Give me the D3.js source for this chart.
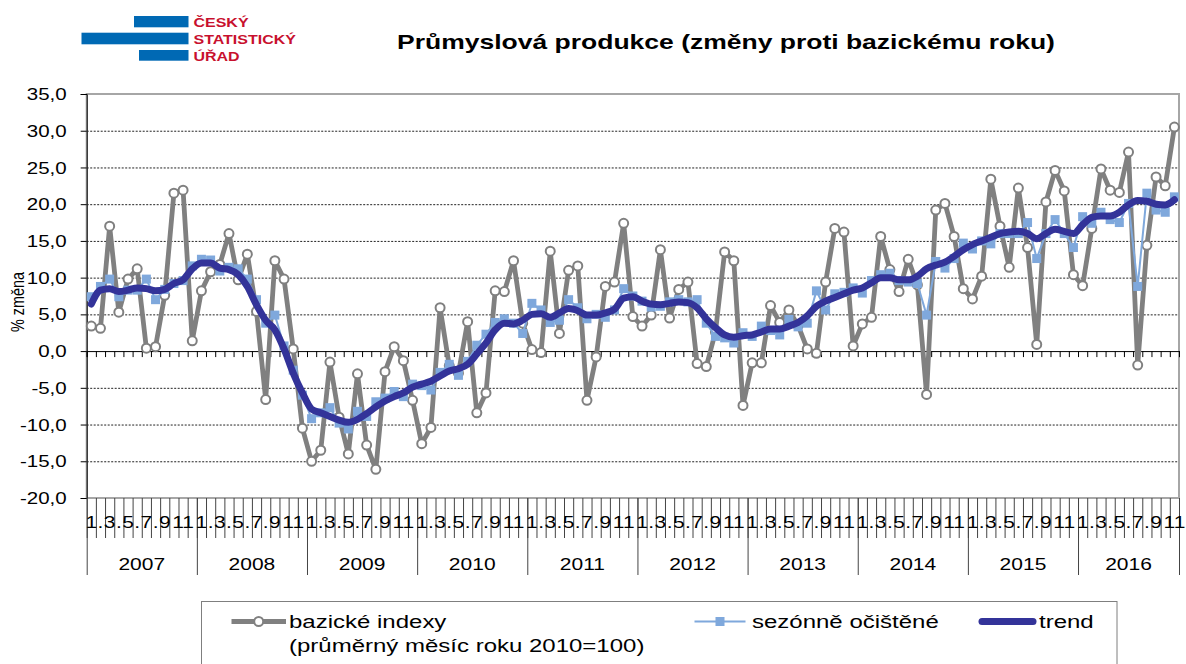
<!DOCTYPE html>
<html lang="cs">
<head>
<meta charset="utf-8">
<title>Průmyslová produkce</title>
<script src="https://cdn.jsdelivr.net/npm/d3@7"></script>
<style>
  body { margin: 0; background: #fff; }
  svg text { font-family: Arial, "Liberation Sans", sans-serif; }
</style>
</head>
<body>
<svg id="chart" width="1186" height="664"></svg>
<script>
// Data (monthly, 1/2007 - 11/2016)
const years = ["2007", "2008", "2009", "2010", "2011", "2012", "2013", "2014", "2015", "2016"];
const monthLabels = ["1", ".", "3", ".", "5", ".", "7", ".", "9", "", "11", ""];
const yTicks = [-20, -15, -10, -5, 0, 5, 10, 15, 20, 25, 30, 35];

const bazicke = [
  3.4, 3.1, 17.0, 5.3, 9.8, 11.2, 0.4, 0.6, 7.6, 21.5, 21.9, 1.4,
  8.2, 10.8, 11.8, 16.0, 9.7, 13.2, 5.4, -6.6, 12.3, 9.8, 0.3, -10.5,
  -15.0, -13.5, -1.5, -9.0, -14.0, -3.1, -12.8, -16.1, -2.8, 0.6, -1.3, -6.7,
  -12.6, -10.4, 5.9, -2.0, -3.0, 4.0, -8.4, -5.7, 8.2, 8.1, 12.3, 3.8,
  0.2, -0.2, 13.6, 2.4, 11.0, 11.6, -6.7, -0.8, 8.8, 9.4, 17.4, 4.7,
  3.4, 4.9, 13.8, 4.5, 8.4, 9.4, -1.7, -2.1, 2.6, 13.5, 12.3, -7.4,
  -1.6, -1.6, 6.2, 3.9, 5.6, 3.5, 0.3, -0.3, 9.4, 16.7, 16.2, 0.7,
  3.7, 4.6, 15.6, 11.1, 8.1, 12.5, 9.0, -5.9, 19.2, 20.1, 15.6, 8.5,
  7.1, 10.2, 23.4, 17.0, 11.4, 22.2, 14.1, 0.9, 20.3, 24.6, 21.8, 10.4,
  8.9, 16.7, 24.8, 21.9, 21.6, 27.1, -1.9, 14.4, 23.7, 22.5, 30.5
];

const sezonne = [
  7.4, 8.8, 9.8, 7.4, 8.3, 8.3, 9.8, 7.0, 8.4, 9.2, 9.6, 11.6,
  12.5, 12.4, 10.9, 11.4, 11.2, 9.8, 7.0, 3.8, 4.9, 0.7, -2.6, -6.0,
  -9.2, -8.4, -7.7, -9.8, -10.6, -8.2, -8.9, -6.9, -6.4, -5.5, -6.2, -4.5,
  -4.7, -5.3, -2.9, -1.8, -3.3, -1.4, 0.8, 2.3, 3.9, 4.4, 3.8, 2.4,
  6.5, 5.6, 3.9, 4.2, 7.0, 5.9, 4.4, 5.0, 4.6, 5.6, 8.5, 7.5,
  6.8, 6.0, 6.1, 6.7, 7.0, 6.7, 7.0, 3.8, 2.0, 1.8, 1.1, 2.5,
  2.0, 3.4, 2.8, 2.2, 4.3, 3.3, 3.8, 8.2, 5.6, 7.8, 8.0, 8.6,
  7.9, 9.6, 10.4, 10.6, 9.6, 9.4, 9.2, 4.9, 12.2, 11.3, 12.6, 14.7,
  13.9, 15.0, 14.6, 16.0, 16.0, 16.0, 17.5, 12.6, 16.0, 17.9, 16.0, 14.1,
  18.3, 17.4, 18.9, 17.9, 17.5, 20.1, 8.8, 21.5, 19.2, 18.9, 21.0
];

const trend = [
  6.4, 8.3, 8.5, 8.1, 8.3, 8.6, 8.5, 8.2, 8.4, 9.2, 9.7, 11.2,
  12.0, 12.0, 11.3, 11.1, 10.4, 8.8, 6.3, 4.2, 2.9, 0.3, -3.0, -5.7,
  -7.9, -8.4, -8.9, -9.4, -9.7, -9.3, -8.5, -7.6, -6.8, -6.2, -5.7, -4.9,
  -4.5, -4.1, -3.4, -2.7, -2.4, -1.8, -0.4, 1.1, 2.9, 3.8, 3.7, 4.2,
  5.0, 5.1, 4.6, 5.2, 5.8, 5.5, 4.9, 4.9, 5.2, 5.7, 7.2, 7.4,
  6.8, 6.4, 6.3, 6.5, 6.7, 6.6, 5.9, 4.4, 3.2, 2.2, 1.9, 2.1,
  2.2, 2.6, 3.0, 3.0, 3.4, 3.9, 4.8, 6.1, 6.8, 7.3, 7.8, 8.3,
  8.6, 9.3, 10.0, 10.0, 9.7, 9.7, 10.2, 11.2, 11.7, 12.1, 12.9, 13.8,
  14.5, 15.0, 15.5, 16.0, 16.2, 16.3, 16.0, 15.3, 16.0, 16.6, 16.3, 16.0,
  17.2, 18.2, 18.4, 18.4, 18.9, 19.9, 20.5, 20.4, 20.0, 19.9, 20.6
];

// Colours
const cGray = "#808080";
const cLight = "#7fa8dc";
const cTrend = "#333399";

// the original picture is squashed vertically, so text is too
const SQ = 0.78;

const svg = d3.select("#chart");
const plotL = 86.7, plotR = 1179, plotT = 94, plotB = 498;
const n = bazicke.length;

const x = d3.scaleBand().domain(d3.range(n)).range([plotL, plotR]);
const xb = d3.scaleLinear().domain([0, n]).range([plotL, plotR]);
const y = d3.scaleLinear().domain([-20, 35]).range([plotB, plotT]);
const cx = (i) => x(i) + x.bandwidth() / 2;

const cz = d3.formatLocale({ decimal: ",", thousands: " ", grouping: [3], currency: ["", " Kč"], minus: "-" });
const fmt = cz.format(".1f");

// squashed text helper
const label = (g, tx, ty, str, size, o = {}) =>
  g.append("text")
    .attr("transform", `translate(${tx},${ty}) ` + (o.rotate ? `rotate(-90) scale(${SQ},1)` : `scale(1,${SQ})`))
    .attr("text-anchor", o.anchor || "start")
    .attr("font-size", size)
    .attr("font-weight", o.bold ? "bold" : null)
    .attr("fill", o.color || "#000")
    .text(str);

// Logo
const logo = svg.append("g");
logo.append("rect").attr("x", 134).attr("y", 16).attr("width", 54.5).attr("height", 11.3).attr("fill", "#0069b4");
logo.append("rect").attr("x", 81.5).attr("y", 32.7).attr("width", 107).attr("height", 11.6).attr("fill", "#0069b4");
logo.append("rect").attr("x", 139).attr("y", 50).attr("width", 49.5).attr("height", 10.7).attr("fill", "#0069b4");
label(logo, 193.5, 27.3, "ČESKÝ", 16, { bold: true, color: "#c8102e" });
label(logo, 193.5, 44.3, "STATISTICKÝ", 16, { bold: true, color: "#c8102e" });
label(logo, 193.5, 60.7, "ÚŘAD", 16, { bold: true, color: "#c8102e" });

// Title
label(svg, 726, 49, "Průmyslová produkce (změny proti bazickému roku)", 26.5, { bold: true, anchor: "middle" });

// Gridlines
svg.append("g")
  .attr("transform", `translate(${plotL},0)`)
  .call(d3.axisLeft(y).tickValues(yTicks.filter((v) => v > -20 && v < 35 && v !== 0)).tickSize(-(plotR - plotL)).tickFormat(""))
  .call((g) => g.select(".domain").remove())
  .call((g) => g.selectAll("line").attr("stroke", "#222").attr("stroke-dasharray", "2,1.5"));

// Plot border
svg.append("rect")
  .attr("x", plotL).attr("y", plotT).attr("width", plotR - plotL).attr("height", plotB - plotT)
  .attr("fill", "none").attr("stroke", "#a6a6a6").attr("stroke-width", 2);

// Y axis
const yAxis = svg.append("g")
  .attr("transform", `translate(${plotL},0)`)
  .call(d3.axisLeft(y).tickValues(yTicks).tickSize(6).tickFormat(fmt));
yAxis.select(".domain").attr("stroke", "#000");
yAxis.selectAll("text")
  .attr("x", null).attr("dy", null)
  .attr("font-size", 20.5)
  .attr("transform", `translate(-20,5.6) scale(1,${SQ})`);
label(svg, 24, 302, "% změna", 18.5, { rotate: true, anchor: "middle" });

// Zero line with small ticks
svg.append("g")
  .attr("transform", `translate(0,${y(0)})`)
  .call(d3.axisBottom(xb).tickValues(d3.range(n + 1)).tickSize(6).tickFormat(""))
  .call((g) => g.selectAll("line,path").attr("stroke", "#000"));

// Category axis under the plot
svg.append("g")
  .attr("transform", `translate(0,${plotB})`)
  .call(d3.axisBottom(xb).tickValues(d3.range(n + 1)).tickSize(40).tickFormat(""))
  .call((g) => g.select(".domain").remove())
  .call((g) => g.selectAll("line").attr("stroke", "#444"));

const yearBounds = years.map((d, k) => k * 12).concat([n]);
svg.append("g")
  .attr("transform", `translate(0,${plotB})`)
  .call(d3.axisBottom(xb).tickValues(yearBounds).tickSize(77).tickFormat(""))
  .call((g) => g.select(".domain").remove())
  .call((g) => g.selectAll("line").attr("stroke", "#444"));

const monthAxis = svg.append("g")
  .attr("transform", `translate(0,${plotB})`)
  .call(d3.axisBottom(x).tickSize(0).tickFormat((i) => monthLabels[i % 12]));
monthAxis.select(".domain").remove();
monthAxis.selectAll("text")
  .attr("y", null).attr("dy", null)
  .attr("font-size", 21)
  .attr("transform", `translate(0,30) scale(1,${SQ})`);

years.forEach((yr, k) => {
  const mid = (xb(yearBounds[k]) + xb(yearBounds[k + 1])) / 2;
  label(svg, mid, 570, yr, 21, { anchor: "middle" });
});

// Series
const line = d3.line().x((d, i) => cx(i)).y((d) => y(d));

svg.append("path")
  .attr("d", line(bazicke))
  .attr("fill", "none").attr("stroke", cGray).attr("stroke-width", 4.8).attr("stroke-linejoin", "round");
svg.append("g").selectAll("circle")
  .data(bazicke)
  .join("circle")
  .attr("cx", (d, i) => cx(i)).attr("cy", (d) => y(d)).attr("r", 4.5)
  .attr("fill", "#fff").attr("stroke", cGray).attr("stroke-width", 2);

svg.append("path")
  .attr("d", line(sezonne))
  .attr("fill", "none").attr("stroke", cLight).attr("stroke-width", 2);
svg.append("g").selectAll("rect")
  .data(sezonne)
  .join("rect")
  .attr("x", (d, i) => cx(i) - 4.5).attr("y", (d) => y(d) - 4.5)
  .attr("width", 9).attr("height", 9)
  .attr("fill", cLight);

svg.append("path")
  .attr("d", line.curve(d3.curveMonotoneX)(trend))
  .attr("fill", "none").attr("stroke", cTrend).attr("stroke-width", 7)
  .attr("stroke-linejoin", "round").attr("stroke-linecap", "round");

// Legend
const lg = svg.append("g");
lg.append("rect")
  .attr("x", 201.5).attr("y", 601.5).attr("width", 915.5).attr("height", 80)
  .attr("fill", "#fff").attr("stroke", "#7f7f7f").attr("stroke-width", 1);
const ly = 621.5;
lg.append("line").attr("x1", 231.5).attr("x2", 286).attr("y1", ly).attr("y2", ly)
  .attr("stroke", cGray).attr("stroke-width", 4.8);
lg.append("circle").attr("cx", 258.7).attr("cy", ly).attr("r", 4.5)
  .attr("fill", "#fff").attr("stroke", cGray).attr("stroke-width", 2);
label(lg, 289, 628, "bazické indexy", 24);
label(lg, 289, 652, "(průměrný měsíc roku 2010=100)", 24);

lg.append("line").attr("x1", 694.5).attr("x2", 745.5).attr("y1", ly).attr("y2", ly)
  .attr("stroke", cLight).attr("stroke-width", 2);
lg.append("rect").attr("x", 720 - 4.5).attr("y", ly - 4.5).attr("width", 9).attr("height", 9).attr("fill", cLight);
label(lg, 752, 628, "sezónně očištěné", 24);

lg.append("line").attr("x1", 982).attr("x2", 1033).attr("y1", ly).attr("y2", ly)
  .attr("stroke", cTrend).attr("stroke-width", 7).attr("stroke-linecap", "round");
label(lg, 1039, 628, "trend", 24);
</script>
</body>
</html>
